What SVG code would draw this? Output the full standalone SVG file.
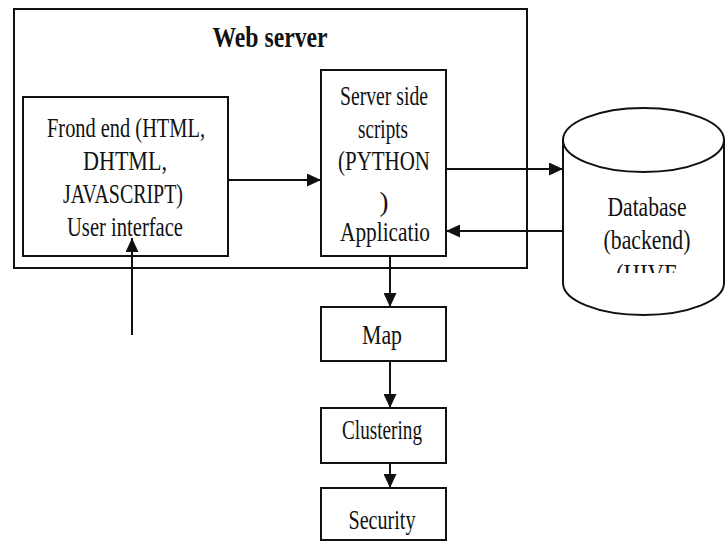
<svg xmlns="http://www.w3.org/2000/svg" width="725" height="544" viewBox="0 0 725 544">
<style>
.box{fill:#fff;stroke:#111;stroke-width:2}
.t{font-family:"Liberation Serif","Times New Roman",serif;font-size:27px;fill:#111;text-anchor:middle}
.title{font-weight:bold;font-size:29px}
.c{stroke:#111;stroke-width:2;fill:none}
</style>
<defs>
<marker id="ah" markerUnits="userSpaceOnUse" markerWidth="14" markerHeight="13" refX="14" refY="6.5" orient="auto">
<path d="M0,0 L14,6.5 L0,13 z" fill="#111"/>
</marker>
<clipPath id="dbclip"><rect x="560" y="0" width="165" height="273"/></clipPath>
</defs>
<rect width="725" height="544" fill="#fff"/>
<g id="webserver">
<rect class="box" x="14" y="9" width="513" height="259"/>
<text class="t title" x="270" y="47" textLength="115" lengthAdjust="spacingAndGlyphs">Web server</text>
</g>
<g id="frontend">
<rect class="box" x="23" y="97" width="205" height="159"/>
<text class="t" x="126" y="137" textLength="158" lengthAdjust="spacingAndGlyphs">Frond end (HTML,</text>
<text class="t" x="125" y="170" textLength="84" lengthAdjust="spacingAndGlyphs">DHTML,</text>
<text class="t" x="123" y="203" textLength="120" lengthAdjust="spacingAndGlyphs">JAVASCRIPT)</text>
<text class="t" x="125" y="236" textLength="116" lengthAdjust="spacingAndGlyphs">User interface</text>
</g>
<g id="server">
<rect class="box" x="321" y="70" width="125" height="186"/>
<text class="t" x="384" y="105" textLength="88" lengthAdjust="spacingAndGlyphs">Server side</text>
<text class="t" x="383" y="138" textLength="50" lengthAdjust="spacingAndGlyphs">scripts</text>
<text class="t" x="384" y="170" textLength="92" lengthAdjust="spacingAndGlyphs">(PYTHON</text>
<text class="t" x="384" y="211">)</text>
<text class="t" x="385" y="241" textLength="90" lengthAdjust="spacingAndGlyphs">Applicatio</text>
</g>
<g id="database">
<path class="box" d="M563,140 L563,283 A80.5,32 0 0 0 724,283 L724,140"/>
<ellipse class="box" cx="643.5" cy="140" rx="80.5" ry="32"/>
<text class="t" x="647" y="216" textLength="79" lengthAdjust="spacingAndGlyphs">Database</text>
<text class="t" x="647" y="249" textLength="87" lengthAdjust="spacingAndGlyphs">(backend)</text>
<text class="t" x="647" y="283" clip-path="url(#dbclip)" textLength="62" lengthAdjust="spacingAndGlyphs">(HIVE</text>
</g>
<g id="map">
<rect class="box" x="321" y="307" width="125" height="54"/>
<text class="t" x="382" y="344" textLength="40" lengthAdjust="spacingAndGlyphs">Map</text>
</g>
<g id="clustering">
<rect class="box" x="321" y="408" width="125" height="55"/>
<text class="t" x="382" y="439" textLength="80" lengthAdjust="spacingAndGlyphs">Clustering</text>
</g>
<g id="security">
<rect class="box" x="321" y="488" width="125" height="52"/>
<text class="t" x="382" y="529" textLength="67" lengthAdjust="spacingAndGlyphs">Security</text>
</g>
<g id="connectors">
<line class="c" x1="228" y1="180" x2="321" y2="180" marker-end="url(#ah)"/>
<line class="c" x1="446" y1="169" x2="563" y2="169" marker-end="url(#ah)"/>
<line class="c" x1="563" y1="231" x2="446" y2="231" marker-end="url(#ah)"/>
<line class="c" x1="132" y1="335" x2="132" y2="238" marker-end="url(#ah)"/>
<line class="c" x1="390" y1="256" x2="390" y2="307" marker-end="url(#ah)"/>
<line class="c" x1="390" y1="361" x2="390" y2="408" marker-end="url(#ah)"/>
<line class="c" x1="390" y1="463" x2="390" y2="488" marker-end="url(#ah)"/>
</g>
</svg>
